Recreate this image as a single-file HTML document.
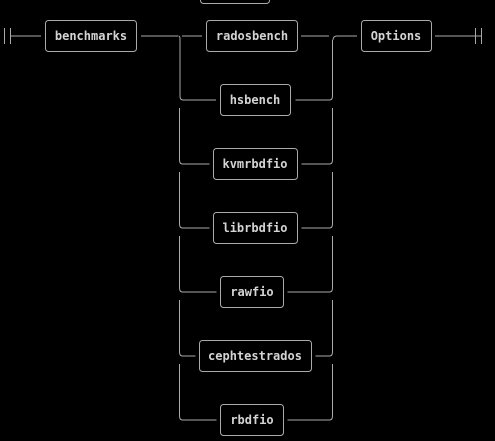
<!DOCTYPE html>
<html><head><style>
html,body{margin:0;padding:0;background:#000;width:495px;height:441px;overflow:hidden}
svg text{font-family:"DejaVu Sans Mono","Liberation Mono",monospace;font-size:12px;font-weight:bold;fill:#d4d4d4;text-anchor:middle;dominant-baseline:central}
</style></head><body>
<svg width="495" height="441" xmlns="http://www.w3.org/2000/svg">
<g stroke="#aaa" stroke-width="1" fill="none">
<rect x="200.5" y="-20.5" width="69" height="24" rx="3"/>
<path d="M4.5 28v16M10.5 28v16M10 36h31"/>
<path d="M475.5 28v16M481.5 28v16M435 36h46"/>
<rect x="45.5" y="20.5" width="91" height="31" rx="3"/>
<rect x="361.5" y="20.5" width="70" height="31" rx="3"/>
<path d="M141 36h37M182 36h20M301 36h28M357 36h-20q-4 0-4 4"/>
<rect x="206.5" y="20.5" width="91" height="31" rx="3"/>
<path d="M178.5 36q1.5 0 1.5 3v57q0 4 3 4h33M179.5 108v52q0 4 3 4h27M179.5 172v52q0 4 3 4h27M179.5 236v52q0 4 3 4h34M179.5 300v52q0 4 3 4h13M179.5 364v52q0 4 3 4h34"/>
<path d="M332.5 40v56q0 4-3 4h-34M332.5 108v52q0 4-3 4h-28M332.5 172v52q0 4-3 4h-28M332.5 236v52q0 4-3 4h-42M332.5 300v52q0 4-3 4h-14M332.5 364v52q0 4-3 4h-42"/>
<rect x="220.5" y="84.5" width="70" height="31" rx="3"/>
<rect x="213.5" y="148.5" width="84" height="31" rx="3"/>
<rect x="213.5" y="212.5" width="84" height="31" rx="3"/>
<rect x="220.5" y="276.5" width="63" height="31" rx="3"/>
<rect x="199.5" y="340.5" width="112" height="31" rx="3"/>
<rect x="220.5" y="404.5" width="63" height="31" rx="3"/>
</g>
<text x="91" y="36">benchmarks</text>
<text x="252" y="36">radosbench</text>
<text x="396" y="36">Options</text>
<text x="255" y="100">hsbench</text>
<text x="255" y="164">kvmrbdfio</text>
<text x="255" y="228">librbdfio</text>
<text x="252" y="292">rawfio</text>
<text x="255" y="356">cephtestrados</text>
<text x="252" y="420">rbdfio</text>
</svg>
</body></html>
